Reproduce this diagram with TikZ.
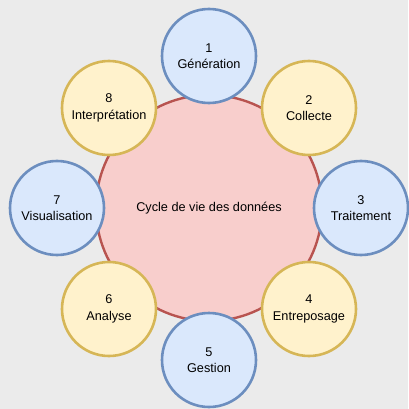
\documentclass[tikz,border=0pt]{standalone}
\usepackage{fontspec}
\setmainfont{Liberation Sans}
\definecolor{bg}{HTML}{EBEBEB}
\definecolor{bluefill}{HTML}{DAE8FC}
\definecolor{bluedraw}{HTML}{6C8EBF}
\definecolor{yelfill}{HTML}{FFF2CC}
\definecolor{yeldraw}{HTML}{D6B656}
\definecolor{redfill}{HTML}{F8CECC}
\definecolor{reddraw}{HTML}{B85450}
\begin{document}
\begin{tikzpicture}[x=1pt,y=-1pt,
  stage/.style={circle, minimum size=94pt, inner sep=0pt, line width=2.6pt, align=center, font=\fontsize{12.7}{16.5}\selectfont},
  bluestage/.style={stage, draw=bluedraw, fill=bluefill},
  yelstage/.style={stage, draw=yeldraw, fill=yelfill},
  core/.style={circle, minimum size=226pt, inner sep=0pt, line width=2.4pt, draw=reddraw, fill=redfill, font=\fontsize{12.7}{16}\selectfont}]
\fill[bg] (0,0) rectangle (408,409);
\useasboundingbox (0,0) rectangle (408,409);
\node[core] (c) at (209,208) {Cycle de vie des données};
\node[bluestage] (s1) at (209,56) {1\\Génération};
\node[yelstage] (s2) at (309,108) {2\\Collecte};
\node[bluestage] (s3) at (361,208) {3\\Traitement};
\node[yelstage] (s4) at (309,309) {4\\Entreposage};
\node[bluestage] (s5) at (209,360) {5\\Gestion};
\node[yelstage] (s6) at (109,309) {6\\Analyse};
\node[bluestage] (s7) at (57,208) {7\\Visualisation};
\node[yelstage] (s8) at (109,108) {8\\Interprétation};
\end{tikzpicture}
\end{document}
